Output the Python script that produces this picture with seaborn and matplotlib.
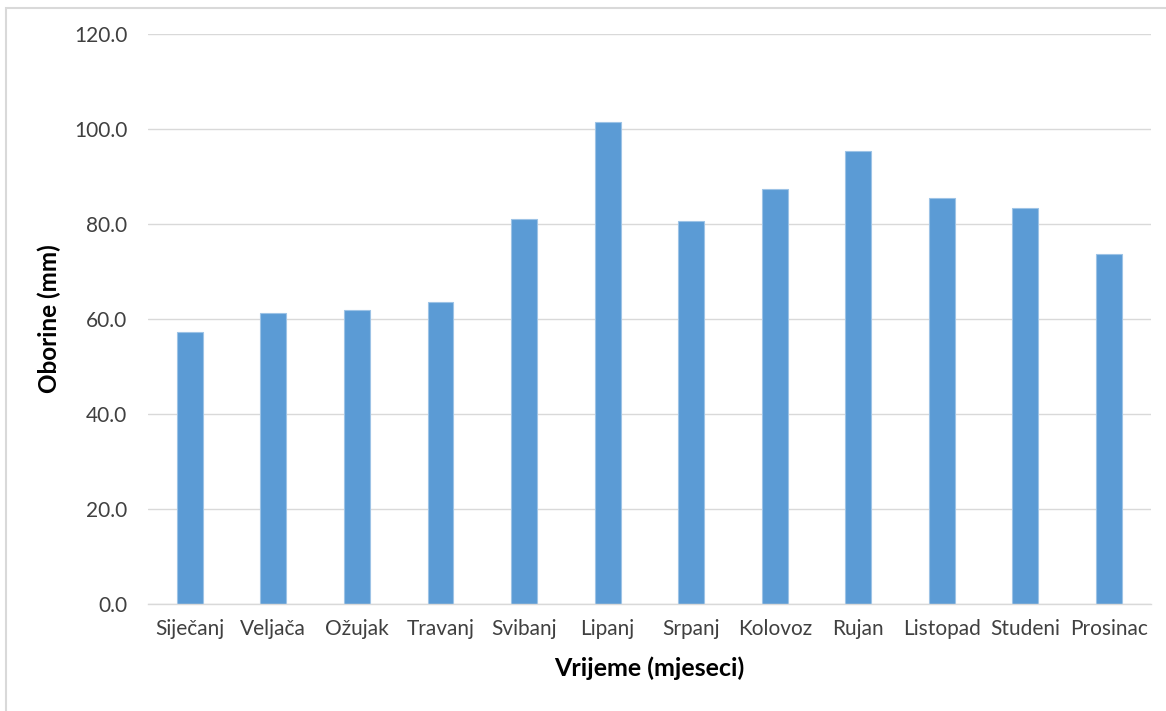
import matplotlib
matplotlib.use("Agg")
import matplotlib.pyplot as plt
import seaborn as sns
import pandas as pd
from matplotlib.patches import Rectangle

months = ["Siječanj", "Veljača", "Ožujak", "Travanj", "Svibanj", "Lipanj",
          "Srpanj", "Kolovoz", "Rujan", "Listopad", "Studeni", "Prosinac"]
precip = [57.3, 61.2, 61.9, 63.5, 81.1, 101.4, 80.6, 87.3, 95.4, 85.5, 83.4, 73.7]
yticks = [0, 20, 40, 60, 80, 100, 120]

df = pd.DataFrame({"month": months, "precip": precip})

sns.set_theme(style="white")
plt.rcParams['font.family'] = ['Lato', 'DejaVu Sans']

fig = plt.figure(figsize=(11.66, 7.11), dpi=100)
ax = fig.add_axes([148/1166, 1 - 604/711, (1150.7 - 148)/1166, (604 - 34)/711])

sns.barplot(data=df, x="month", y="precip", color="#5B9BD5", saturation=1,
            width=0.31, ax=ax, edgecolor="#9DC3E6", linewidth=0.8)

ax.set_ylim(0, 120)
ax.set_xlim(-0.5, len(months) - 0.5)
ax.set_yticks(yticks)
ax.set_yticklabels([f"{v:.1f}" for v in yticks])
ax.yaxis.grid(True, color="#D9D9D9", linewidth=1)
ax.set_axisbelow(True)
for s in ["left", "right", "top"]:
    ax.spines[s].set_visible(False)
ax.spines["bottom"].set_color("#D9D9D9")
ax.spines["bottom"].set_linewidth(1)
ax.tick_params(axis="both", length=0, labelsize=15, colors="#404040")
ax.tick_params(axis="y", pad=15)
ax.tick_params(axis="x", pad=11)

ax.set_xlabel("Vrijeme (mjeseci)", fontsize=18, fontweight="bold", color="black", labelpad=12)
ax.set_ylabel("Oborine (mm)", fontsize=17.5, fontweight="bold", color="black", labelpad=9)

fig.patches.append(Rectangle((6/1166, -0.01), 1.02, 1 - 8/711 + 0.01, transform=fig.transFigure,
                             fill=False, edgecolor="#D9D9D9", linewidth=1.5))

fig.savefig("out.png", dpi=100)
